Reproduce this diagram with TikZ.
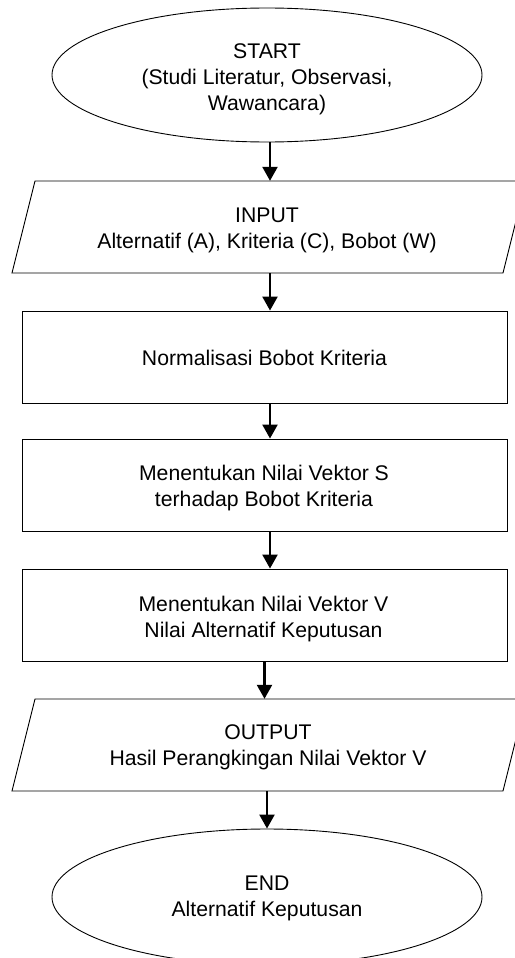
\documentclass[tikz,border=0pt]{standalone}
\usepackage{fontspec}
\setmainfont{Liberation Sans}
\usetikzlibrary{shapes.geometric,arrows.meta}
\begin{document}
\begin{tikzpicture}[x=1pt,y=-1pt,
  outline/.style={draw, line width=0.9pt},
  ell/.style={outline, ellipse, inner sep=0pt, minimum width=430pt},
  procbox/.style={outline, rectangle, inner sep=0pt, minimum width=485pt, minimum height=92pt},
  iobox/.style={rectangle, inner sep=0pt, minimum width=468pt, minimum height=92pt},
  arr/.style={line width=2.4pt, -{Triangle[width=15pt,length=14pt]}},
  txt/.style={align=center, inner sep=0pt, font=\fontsize{21.2}{26}\selectfont},
]
\useasboundingbox (0,0) rectangle (514,958);

% shapes
\node[ell, minimum height=134pt] (start) at (267,75) {};
\node[iobox] (in) at (270,227) {};
\draw[outline] (35,181) -- (526,181) -- (503,273) -- (12,273) -- cycle;
\node[procbox] (b1) at (264.5,357) {};
\node[procbox] (b2) at (264.5,485) {};
\node[procbox] (b3) at (264.5,615) {};
\node[iobox] (out) at (270,745) {};
\draw[outline] (35,699) -- (526,699) -- (503,791) -- (12,791) -- cycle;
\node[ell, minimum height=136pt] (end) at (267,897) {};

% texts
\node[txt] (tstart) at (267,79.6) {START\\(Studi Literatur, Observasi,\\Wawancara)};
\node[txt] (tin) at (267,230.6) {INPUT\\Alternatif (A), Kriteria (C), Bobot (W)};
\node[txt] (tb1) at (264.5,358.3) {Normalisasi Bobot Kriteria};
\node[txt] (tb2) at (264,488) {Menentukan Nilai Vektor S\\terhadap Bobot Kriteria};
\node[txt] (tb3) at (263.5,619.4) {Menentukan Nilai Vektor V\\Nilai Alternatif Keputusan};
\node[txt] (tout) at (268,747.5) {OUTPUT\\Hasil Perangkingan Nilai Vektor V};
\node[txt] (tend) at (267,898.6) {END\\Alternatif Keputusan};

% connectors
\draw[arr] (start.south -| in.north) -- (in.north);
\draw[arr] (in.south) -- (in.south |- b1.north);
\draw[arr] ([xshift=5.5pt]b1.south) -- ([xshift=5.5pt]b2.north);
\draw[arr] ([xshift=5.5pt]b2.south) -- ([xshift=5.5pt]b3.north);
\draw[arr] (b3.south) -- (b3.south |- out.north);
\draw[arr] (out.south -| end.north) -- (end.north);
\end{tikzpicture}
\end{document}
